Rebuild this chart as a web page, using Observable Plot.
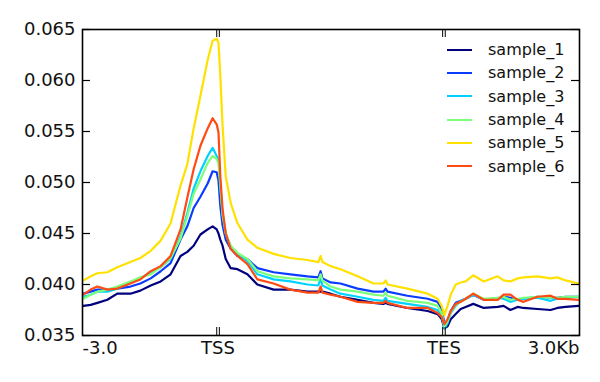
<!DOCTYPE html>
<html><head><meta charset="utf-8">
<script src="https://cdn.jsdelivr.net/npm/d3@7"></script>
<script src="https://cdn.jsdelivr.net/npm/@observablehq/plot@0.6"></script>
<style>
body{margin:0;background:#fff;}
#wrap{position:relative;width:600px;height:382px;font-family:"DejaVu Sans",sans-serif;}
#legend{position:absolute;left:447px;top:38px;}
.row{display:flex;align-items:center;height:23.3px;font-size:16px;color:#111;}
.sw{width:25px;height:0;border-top:2.5px solid;margin-right:16px;}
</style></head><body><div id="wrap"></div>
<script>
// x positions in bp (0 = -3.0kb, 3000 = TSS, 8000 = TES, 11000 = +3.0kb)
const positions = [20,180,330,550,770,1060,1280,1510,1730,1950,2170,2320,2460,2610,2770,2880,2970,3010,3050,3100,3170,3280,3430,3650,3870,4230,4600,4980,5220,5270,5310,5490,5710,6090,6440,6660,6710,6750,7190,7640,7860,7950,8010,8080,8150,8260,8370,8480,8650,8880,9190,9320,9470,9630,9760,10070,10360,10510,10690,10980];

const sample_1 = [0.0379,0.0380,0.0382,0.0385,0.0391,0.0391,0.0394,0.0399,0.0403,0.0410,0.0428,0.0432,0.0438,0.0449,0.0454,0.0457,0.0454,0.0450,0.0444,0.0438,0.0425,0.0416,0.0415,0.0410,0.0400,0.0395,0.0395,0.0393,0.0393,0.0393,0.0393,0.0391,0.0388,0.0385,0.0382,0.0381,0.0382,0.0381,0.0377,0.0374,0.0371,0.0366,0.0357,0.0359,0.0366,0.0371,0.0376,0.0378,0.0381,0.0377,0.0378,0.0379,0.0375,0.0378,0.0377,0.0376,0.0375,0.0377,0.0378,0.0379];
const sample_2 = [0.0391,0.0393,0.0395,0.0395,0.0396,0.0398,0.0401,0.0406,0.0413,0.0421,0.0444,0.0457,0.0475,0.0486,0.0499,0.0511,0.0510,0.0502,0.0477,0.0458,0.0444,0.0435,0.0428,0.0425,0.0416,0.0412,0.0410,0.0408,0.0407,0.0413,0.0406,0.0402,0.0401,0.0396,0.0393,0.0393,0.0396,0.0393,0.0389,0.0386,0.0383,0.0376,0.0362,0.0364,0.0374,0.0382,0.0384,0.0386,0.0390,0.0385,0.0386,0.0388,0.0387,0.0385,0.0386,0.0388,0.0387,0.0387,0.0388,0.0388];
const sample_3 = [0.0388,0.0390,0.0393,0.0393,0.0396,0.0402,0.0406,0.0412,0.0417,0.0425,0.0447,0.0470,0.0494,0.0511,0.0526,0.0534,0.0526,0.0523,0.0497,0.0470,0.0450,0.0437,0.0430,0.0423,0.0410,0.0405,0.0403,0.0400,0.0399,0.0406,0.0399,0.0395,0.0391,0.0388,0.0385,0.0384,0.0387,0.0384,0.0381,0.0378,0.0375,0.0369,0.0357,0.0362,0.0372,0.0379,0.0384,0.0386,0.0390,0.0385,0.0387,0.0386,0.0383,0.0385,0.0386,0.0387,0.0384,0.0386,0.0387,0.0388];
const sample_4 = [0.0386,0.0390,0.0393,0.0395,0.0398,0.0403,0.0407,0.0410,0.0417,0.0426,0.0445,0.0467,0.0489,0.0503,0.0519,0.0526,0.0523,0.0519,0.0497,0.0468,0.0450,0.0438,0.0431,0.0425,0.0413,0.0408,0.0406,0.0405,0.0404,0.0410,0.0404,0.0398,0.0395,0.0393,0.0390,0.0389,0.0392,0.0389,0.0384,0.0382,0.0379,0.0372,0.0359,0.0364,0.0373,0.0380,0.0383,0.0386,0.0391,0.0386,0.0387,0.0388,0.0385,0.0386,0.0387,0.0388,0.0387,0.0387,0.0388,0.0388];
const sample_5 = [0.0404,0.0408,0.0411,0.0412,0.0417,0.0422,0.0426,0.0433,0.0443,0.0460,0.0497,0.0518,0.0553,0.0585,0.0620,0.0639,0.0641,0.0637,0.0605,0.0556,0.0506,0.0480,0.0460,0.0444,0.0436,0.0430,0.0426,0.0424,0.0422,0.0428,0.0422,0.0418,0.0415,0.0408,0.0401,0.0401,0.0404,0.0400,0.0396,0.0391,0.0386,0.0379,0.0370,0.0379,0.0390,0.0400,0.0402,0.0403,0.0409,0.0403,0.0408,0.0404,0.0403,0.0406,0.0407,0.0408,0.0406,0.0407,0.0404,0.0401];
const sample_6 = [0.0390,0.0395,0.0398,0.0395,0.0396,0.0401,0.0405,0.0413,0.0418,0.0428,0.0454,0.0485,0.0513,0.0536,0.0553,0.0563,0.0557,0.0549,0.0506,0.0474,0.0450,0.0435,0.0428,0.0420,0.0405,0.0401,0.0395,0.0392,0.0392,0.0398,0.0392,0.0390,0.0388,0.0383,0.0382,0.0382,0.0384,0.0382,0.0377,0.0377,0.0372,0.0368,0.0361,0.0366,0.0374,0.0381,0.0383,0.0386,0.0391,0.0385,0.0385,0.0390,0.0390,0.0385,0.0383,0.0388,0.0389,0.0386,0.0386,0.0385];

const sampleNames = ["sample_1","sample_2","sample_3","sample_4","sample_5","sample_6"];
const sampleColors = ["#00007f","#0a3cff","#00d2ff","#7dff7a","#ffe100","#ff4a12"];
const yTicks = [0.035,0.040,0.045,0.050,0.055,0.060,0.065];
const xTickPositions = [0,3000,8000,11000];
const xTickLabels = ["-3.0","TSS","TES","3.0Kb"];

const seriesValues = [sample_1,sample_2,sample_3,sample_4,sample_5,sample_6];
const rows = [];
seriesValues.forEach((vals, s) => vals.forEach((v, i) => rows.push({x: positions[i], y: v, sample: sampleNames[s]})));

const W = 600, H = 382, mL = 82, mR = 21, mT = 29, mB = 47;
const innerW = W - mL - mR, innerH = H - mT - mB;
const labelOf = d => xTickLabels[xTickPositions.indexOf(d)];
const inner = [xTickPositions[1], xTickPositions[2]];

const chart = Plot.plot({
  width: W, height: H,
  marginLeft: mL, marginRight: mR, marginTop: mT, marginBottom: mB,
  style: {fontFamily: "DejaVu Sans, sans-serif", background: "#fff", color: "#111"},
  x: {domain: [0, 11000], axis: null},
  y: {domain: [0.035, 0.065]},
  color: {domain: sampleNames, range: sampleColors},
  marks: [
    Plot.line(rows, {x: "x", y: "y", z: "sample", stroke: "sample", strokeWidth: 2.2, strokeLinejoin: "round"}),
    Plot.axisY(yTicks, {tickSize: 0, tickPadding: 7, fontSize: 18, tickFormat: d3.format(".3f"), label: null}),
    Plot.tickY(yTicks, {y: d => d, insetRight: innerW - 8, stroke: "#000", strokeWidth: 1.2}),
    Plot.tickY(yTicks, {y: d => d, insetLeft: innerW - 8, stroke: "#000", strokeWidth: 1.2}),
    ...[-1.3, 1.3].flatMap(dx => [
      Plot.tickX(inner, {x: d => d, insetTop: innerH - 8, dx, stroke: "#000", strokeWidth: 1}),
      Plot.tickX(inner, {x: d => d, insetBottom: innerH - 8, dx, stroke: "#000", strokeWidth: 1})
    ]),
    Plot.text([xTickPositions[0]], {x: d => d, text: labelOf, frameAnchor: "bottom", lineAnchor: "top", dy: 6, textAnchor: "start", fontSize: 18}),
    Plot.text(inner, {x: d => d, text: labelOf, frameAnchor: "bottom", lineAnchor: "top", dy: 6, textAnchor: "middle", fontSize: 18}),
    Plot.text([xTickPositions[3]], {x: d => d, text: labelOf, frameAnchor: "bottom", lineAnchor: "top", dy: 6, textAnchor: "end", fontSize: 18}),
    Plot.frame({stroke: "#000", strokeWidth: 1.6})
  ]
});

const wrap = document.getElementById("wrap");
wrap.appendChild(chart);
const legend = document.createElement("div");
legend.id = "legend";
sampleNames.forEach((n, i) => {
  const r = document.createElement("div");
  r.className = "row";
  const sw = document.createElement("span");
  sw.className = "sw";
  sw.style.borderTopColor = sampleColors[i];
  const t = document.createElement("span");
  t.textContent = n;
  r.appendChild(sw); r.appendChild(t);
  legend.appendChild(r);
});
wrap.appendChild(legend);
</script></body></html>
